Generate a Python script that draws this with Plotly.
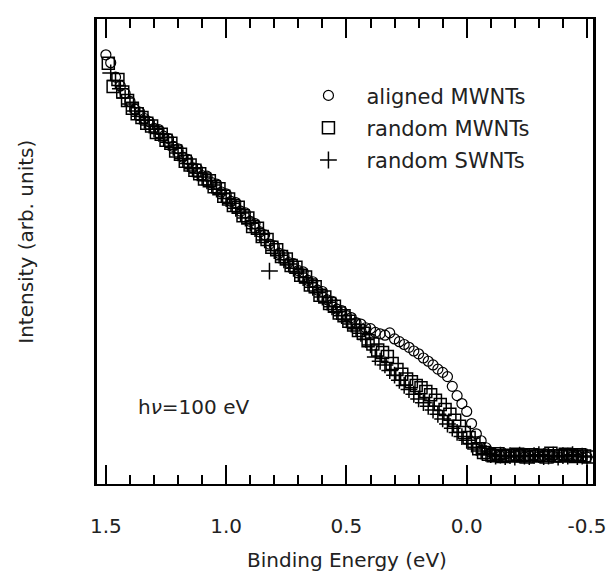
import plotly.graph_objects as go

# ---- data (binding energy in eV, intensity in arb. units) ----
aligned_E = [1.50, 1.48, 1.46, 1.44, 1.42, 1.40, 1.38, 1.36, 1.34, 1.32,
             1.30, 1.28, 1.26, 1.24, 1.22, 1.20, 1.18, 1.16, 1.14, 1.12,
             1.10, 1.08, 1.06, 1.04, 1.02, 1.00, 0.98, 0.96, 0.94, 0.92,
             0.90, 0.88, 0.86, 0.84, 0.82, 0.80, 0.78, 0.76, 0.74, 0.72,
             0.70, 0.68, 0.66, 0.64, 0.62, 0.60, 0.58, 0.56, 0.54, 0.52,
             0.50, 0.48, 0.46, 0.44, 0.42, 0.40, 0.38, 0.36, 0.34, 0.32,
             0.30, 0.28, 0.26, 0.24, 0.22, 0.20, 0.18, 0.16, 0.14, 0.12,
             0.10, 0.08, 0.06, 0.04, 0.02, 0.00, -0.02, -0.04, -0.06, -0.08,
             -0.10, -0.12, -0.14, -0.16, -0.18, -0.20, -0.22, -0.24, -0.26, -0.28,
             -0.30, -0.32, -0.34, -0.36, -0.38, -0.40, -0.42, -0.44, -0.46, -0.48,
             -0.50]
aligned_I = [92.3, 90.6, 87.5, 85.6, 84.0, 82.3, 80.6, 80.0, 78.6, 77.9,
             76.5, 76.2, 74.8, 74.3, 72.6, 72.1, 70.3, 69.8, 68.0, 67.8,
             66.3, 66.2, 64.8, 64.5, 62.8, 62.4, 60.8, 60.5, 58.7, 58.3,
             56.5, 56.0, 54.2, 53.6, 51.6, 51.2, 49.6, 49.2, 47.6, 47.4,
             45.9, 45.6, 43.8, 43.5, 41.7, 41.4, 39.6, 39.3, 37.6, 37.3,
             36.2, 35.8, 34.7, 34.4, 33.6, 33.4, 32.6, 32.3, 32.0, 32.5,
             31.2, 30.6, 30.0, 29.4, 28.6, 28.0, 27.1, 26.4, 25.6, 24.7,
             24.0, 23.1, 21.0, 19.0, 17.3, 15.6, 13.0, 10.8, 9.3, 7.8,
             6.8, 6.3, 6.0, 6.4, 5.9, 6.1, 6.3, 5.8, 6.0, 6.2,
             5.9, 6.1, 6.4, 6.0, 5.8, 6.2, 6.3, 5.9, 6.1, 5.7,
             5.8]

randomMW_E = [1.49, 1.47, 1.45, 1.43, 1.41, 1.39, 1.37, 1.35, 1.33, 1.31,
              1.29, 1.27, 1.25, 1.23, 1.21, 1.19, 1.17, 1.15, 1.13, 1.11,
              1.09, 1.07, 1.05, 1.03, 1.01, 0.99, 0.97, 0.95, 0.93, 0.91,
              0.89, 0.87, 0.85, 0.83, 0.81, 0.79, 0.77, 0.75, 0.73, 0.71,
              0.69, 0.67, 0.65, 0.63, 0.61, 0.59, 0.57, 0.55, 0.53, 0.51,
              0.49, 0.47, 0.45, 0.43, 0.41, 0.39, 0.37, 0.35, 0.33, 0.31,
              0.29, 0.27, 0.25, 0.23, 0.21, 0.19, 0.17, 0.15, 0.13, 0.11,
              0.09, 0.07, 0.05, 0.03, 0.01, -0.01, -0.03, -0.05, -0.07, -0.09,
              -0.11, -0.13, -0.15, -0.17, -0.19, -0.21, -0.23, -0.25, -0.27, -0.29,
              -0.31, -0.33, -0.35, -0.37, -0.39, -0.41, -0.43, -0.45, -0.47, -0.49,
              -0.51]
randomMW_I = [90.5, 85.5, 87.0, 84.3, 82.5, 80.8, 79.6, 78.8, 77.6, 77.0,
              75.6, 75.2, 73.9, 73.3, 71.6, 70.9, 69.4, 68.6, 67.5, 66.7,
              65.6, 65.2, 63.9, 63.5, 61.9, 61.3, 59.9, 59.5, 57.7, 57.2,
              55.4, 55.0, 53.2, 52.6, 50.9, 50.4, 48.9, 48.4, 47.0, 46.6,
              44.9, 44.5, 42.8, 42.4, 40.6, 40.2, 38.8, 38.2, 36.8, 36.2,
              35.0, 34.2, 33.0, 32.4, 30.8, 30.1, 28.8, 28.3, 27.4, 25.9,
              24.6, 23.6, 22.6, 22.0, 21.2, 20.7, 19.9, 19.2, 18.0, 17.1,
              16.0, 15.0, 13.7, 12.4, 11.1, 10.0, 8.8, 7.6, 6.8, 6.4,
              6.1, 6.5, 5.9, 6.2, 6.0, 6.4, 6.1, 5.8, 6.3, 6.0,
              6.2, 5.8, 6.6, 6.1, 6.0, 6.4, 6.2, 5.9, 6.3, 6.0,
              5.8]

randomSW_E = [1.48, 1.46, 1.44, 1.42, 1.40, 1.38, 1.36, 1.34, 1.32, 1.30,
              1.28, 1.26, 1.24, 1.22, 1.20, 1.18, 1.16, 1.14, 1.12, 1.10,
              1.08, 1.06, 1.04, 1.02, 1.00, 0.98, 0.96, 0.94, 0.92, 0.90,
              0.88, 0.86, 0.84, 0.82, 0.80, 0.78, 0.76, 0.74, 0.72, 0.70,
              0.68, 0.66, 0.64, 0.62, 0.60, 0.58, 0.56, 0.54, 0.52, 0.50,
              0.48, 0.46, 0.44, 0.42, 0.40, 0.38, 0.36, 0.34, 0.32, 0.30,
              0.28, 0.26, 0.24, 0.22, 0.20, 0.18, 0.16, 0.14, 0.12, 0.10,
              0.08, 0.06, 0.04, 0.02, 0.00, -0.02, -0.04, -0.06, -0.08, -0.10,
              -0.12, -0.14, -0.16, -0.18, -0.20, -0.22, -0.24, -0.26, -0.28, -0.30,
              -0.32, -0.34, -0.36, -0.38, -0.40, -0.42, -0.44, -0.46, -0.48, -0.50]
randomSW_I = [88.4, 86.8, 85.0, 83.0, 81.7, 80.2, 79.1, 78.2, 77.2, 76.3,
              75.4, 74.5, 73.5, 72.4, 71.2, 70.0, 68.9, 67.8, 66.9, 66.0,
              65.2, 64.3, 63.4, 62.4, 61.4, 60.4, 59.3, 58.3, 57.2, 56.1,
              54.9, 53.7, 52.5, 45.8, 50.2, 49.2, 48.2, 47.3, 46.4, 45.4,
              44.4, 43.3, 42.3, 41.2, 40.2, 39.1, 38.1, 37.1, 36.2, 35.3,
              34.4, 33.4, 32.4, 31.1, 29.9, 27.3, 26.4, 25.6, 24.4, 23.4,
              22.3, 21.2, 20.3, 19.3, 18.3, 17.5, 16.7, 15.9, 15.0, 14.0,
              12.9, 12.0, 11.1, 10.2, 9.4, 8.6, 7.9, 7.1, 6.6, 6.3,
              6.0, 6.2, 5.9, 6.1, 5.8, 6.2, 6.0, 5.9, 6.1, 6.3,
              5.9, 6.0, 6.2, 5.8, 6.1, 6.0, 6.3, 5.9, 6.0, 5.8]

series_names = ["aligned MWNTs", "random MWNTs", "random SWNTs"]
tick_vals = [1.5, 1.0, 0.5, 0.0, -0.5]
tick_text = ["1.5", "1.0", "0.5", "0.0", "-0.5"]

FONT = "DejaVu Sans, Verdana, sans-serif"
TXT = "#222222"

fig = go.Figure()
fig.add_trace(go.Scatter(
    x=aligned_E, y=aligned_I, mode="markers", name=series_names[0], legendgroup="a",
    marker=dict(symbol="circle-open", size=10, color="black", line=dict(width=1.2))))
fig.add_trace(go.Scatter(
    x=randomMW_E, y=randomMW_I, mode="markers", name=series_names[1], legendgroup="b",
    marker=dict(symbol="square-open", size=12, color="black", line=dict(width=1.5))))
fig.add_trace(go.Scatter(
    x=randomSW_E, y=randomSW_I, mode="markers", name=series_names[2], legendgroup="c",
    marker=dict(symbol="cross-thin-open", size=12, color="black", line=dict(width=1.5))))

# page body adds an 8px offset, so the figure is 8px smaller than the window
fig.update_layout(
    width=607, height=565,
    margin=dict(l=89, r=16, t=9, b=89),
    paper_bgcolor="white", plot_bgcolor="white",
    font=dict(family=FONT, size=20, color=TXT),
    showlegend=True,
    legend=dict(x=0.39, y=0.879, xanchor="left", yanchor="top",
                bgcolor="rgba(0,0,0,0)", borderwidth=0,
                font=dict(family=FONT, size=21, color=TXT),
                itemwidth=66, tracegroupgap=2),
    xaxis=dict(range=[1.537, -0.525], showgrid=False, zeroline=False,
               showline=True, linecolor="black", linewidth=2, mirror="ticks",
               ticks="inside", ticklen=19, tickwidth=1.5, tickcolor="black",
               tickvals=tick_vals, ticktext=tick_text,
               tickfont=dict(family=FONT, size=20, color=TXT),
               ticklabelstandoff=23,
               minor=dict(dtick=0.1, ticks="inside", ticklen=9, tickwidth=1.5,
                          tickcolor="black", showgrid=False)),
    yaxis=dict(range=[0, 100], showgrid=False, zeroline=False,
               showline=True, linecolor="black", linewidth=2.5, mirror=True,
               ticks="", showticklabels=False),
    annotations=[
        dict(text="Binding Energy (eV)", xref="paper", yref="paper",
             x=0.504, y=-0.163, xanchor="center", yanchor="middle", showarrow=False,
             font=dict(family=FONT, size=20, color=TXT)),
        dict(text="Intensity (arb. units)", xref="paper", yref="paper",
             x=-0.142, y=0.52, xanchor="center", yanchor="middle", showarrow=False,
             textangle=-90, font=dict(family=FONT, size=20, color=TXT)),
        dict(text="h<i>ν</i>=100 eV", xref="paper", yref="paper",
             x=0.078, y=0.165, xanchor="left", yanchor="middle", showarrow=False,
             font=dict(family=FONT, size=20, color=TXT)),
    ],
)

fig.write_html("out.html")
